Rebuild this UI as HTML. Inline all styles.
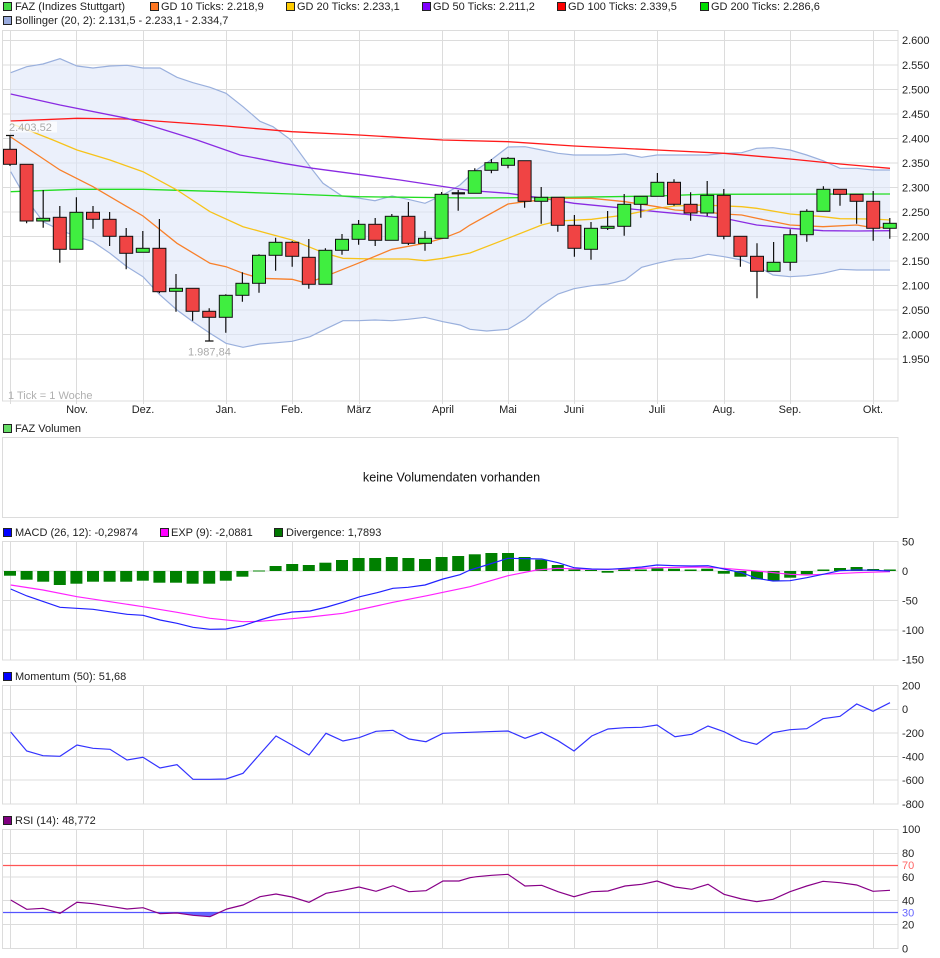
<!DOCTYPE html>
<html><head><meta charset="utf-8"><style>
html,body{margin:0;padding:0;background:#fff;}
svg{display:block;}
text{font-family:"Liberation Sans",Arial,sans-serif;font-size:11px;fill:#222;}
</style></head><body>
<svg width="940" height="958" viewBox="0 0 940 958" xmlns="http://www.w3.org/2000/svg">
<!-- Legend -->
<g stroke="#222" stroke-width="1">
<rect x="3.5" y="2.5" width="8" height="8" fill="#44dd44"/>
<rect x="150.5" y="2.5" width="8" height="8" fill="#ff7722"/>
<rect x="286.5" y="2.5" width="8" height="8" fill="#ffcc00"/>
<rect x="422.5" y="2.5" width="8" height="8" fill="#8000ff"/>
<rect x="557.5" y="2.5" width="8" height="8" fill="#ff0000"/>
<rect x="700.5" y="2.5" width="8" height="8" fill="#00dd00"/>
<rect x="3.5" y="16.5" width="8" height="8" fill="#99aadd"/>
</g>
<text x="15" y="10">FAZ (Indizes Stuttgart)</text>
<text x="161" y="10">GD 10 Ticks: 2.218,9</text>
<text x="297" y="10">GD 20 Ticks: 2.233,1</text>
<text x="433" y="10">GD 50 Ticks: 2.211,2</text>
<text x="568" y="10">GD 100 Ticks: 2.339,5</text>
<text x="711" y="10">GD 200 Ticks: 2.286,6</text>
<text x="15" y="24">Bollinger (20, 2): 2.131,5 - 2.233,1 - 2.334,7</text>

<!-- Main chart grid -->
<g stroke="#dcdcdc" stroke-width="1" fill="none">
<rect x="2.5" y="30.5" width="895.5" height="370.5"/>
<path d="M3 40.5H898M3 65H898M3 89.5H898M3 114H898M3 138.5H898M3 163H898M3 187.5H898M3 212H898M3 236.5H898M3 261H898M3 285.5H898M3 310H898M3 334.5H898M3 359H898"/>
<path d="M10.5 31V404M76.5 31V404M143.5 31V404M226.5 31V404M292.5 31V404M359.5 31V404M442.5 31V404M508.5 31V404M574.5 31V404M657.5 31V404M724.5 31V404M790.5 31V404M873.5 31V404"/>
</g>
<!-- Bollinger band -->
<polygon fill="#dde6f8" fill-opacity="0.6" points="10.7,72.7 26.7,66.7 43,64 60,58.7 77,66 93,68 110,66 127,65.3 143,68 160,68 177,77.3 193,82.7 210,87.3 226,93.3 243,106.7 260,121.3 273,126.7 290,139.3 310,166.7 323,183.3 342,196 358,198 375,200.7 392,196 408,199.3 425,203.3 443,195 460,185 475,171 491,160 508,147 525,146.7 541.7,150 558,153.3 574,155 591.7,155 608,155 625,154 641.7,157.3 657,155 675,155 691.7,155 708,155 724,153.3 741.7,152.7 756.7,148.3 773,147.7 790,150 806.7,155 823,160.7 840,168.3 856.7,168.3 873,170 890,170 890,270 873,270 856.7,270 840,269.3 823,273.3 806.7,275.7 790,276.7 773,275 758,266.7 741.7,260 724,256.7 708,254.3 691.7,258.3 675,259.3 657,263.3 641.7,267.3 625,280 608,284 591.7,285.7 574,288.7 558,294 541.7,305 525,319.3 508,329.3 486.7,331 470,329.3 460,325 443,321.7 425,317.3 408,319.3 392,320.7 375,320 358,320.7 343,320.7 327,328.3 310,336.7 292,341.3 277,342.7 260,344 243,347.3 226,343.3 210,333.3 193,321.7 177,310 160,295 143,276.7 127,266.7 110,253.3 93,241.7 77,236.7 60,230 43,221.7 27,200 10.7,171.7"/>
<g fill="none" stroke="#9ab0dd" stroke-width="1.2">
<polyline points="10.7,72.7 26.7,66.7 43,64 60,58.7 77,66 93,68 110,66 127,65.3 143,68 160,68 177,77.3 193,82.7 210,87.3 226,93.3 243,106.7 260,121.3 273,126.7 290,139.3 310,166.7 323,183.3 342,196 358,198 375,200.7 392,196 408,199.3 425,203.3 443,195 460,185 475,171 491,160 508,147 525,146.7 541.7,150 558,153.3 574,155 591.7,155 608,155 625,154 641.7,157.3 657,155 675,155 691.7,155 708,155 724,153.3 741.7,152.7 756.7,148.3 773,147.7 790,150 806.7,155 823,160.7 840,168.3 856.7,168.3 873,170 890,170"/>
<polyline points="10.7,171.7 27,200 43,221.7 60,230 77,236.7 93,241.7 110,253.3 127,266.7 143,276.7 160,295 177,310 193,321.7 210,333.3 226,343.3 243,347.3 260,344 277,342.7 292,341.3 310,336.7 327,328.3 343,320.7 358,320.7 375,320 392,320.7 408,319.3 425,317.3 443,321.7 460,325 470,329.3 486.7,331 508,329.3 525,319.3 541.7,305 558,294 574,288.7 591.7,285.7 608,284 625,280 641.7,267.3 657,263.3 675,259.3 691.7,258.3 708,254.3 724,256.7 741.7,260 758,266.7 773,275 790,276.7 806.7,275.7 823,273.3 840,269.3 856.7,270 873,270 890,270"/>
</g>
<!-- Moving averages -->
<g fill="none" stroke-width="1.3">
<polyline stroke="#22dd22" points="10.7,191.7 77,189.3 143,189.3 226,191.7 292,194 359,196.7 470,198 570,197.3 657,196 703,194.3 890,194"/>
<polyline stroke="#ff1a1a" points="10.7,121 77,118.3 127,119 226,126 292,131.7 359,135 442.7,140 508,141.7 574,146 657,150 724,153.3 790,159 840,164 890,168.3"/>
<polyline stroke="#8a2be2" points="10.7,94 60,105 127,118.3 143,123.3 197,140 240,155 283,163.3 313,168.3 358,174.3 400,180 433,185 470,190.5 508,193.3 536.7,197.3 574,203.3 625,208.3 657,211.7 703,216 724,218.3 756.7,225 790,228.3 823,230.7 856.7,231 890,230.7"/>
<polyline stroke="#f7c31a" points="10.7,123.3 53,140 77,150 110,160 143,171.7 177,190 210,211.7 243,226.7 267,233.3 292,240 325,253.3 343,258.3 375,259 408,259 425,260.7 443,258.3 470,253 508,238.3 541.7,225 558,221 591.7,219.3 625,215 657,208.3 675,206 703,205 741.7,206.7 756.7,208.3 790,214 823,216.7 840,218.7 873,219 890,220"/>
<polyline stroke="#f8802a" points="10.7,137 60,170 93,186.7 143,216 177,243.3 210,263.3 226,266.7 243,273.3 260,278.3 292,279.3 307,283.3 333,273.3 358,263.3 392,249.3 425,243.3 443,238.3 460,231.7 470,225 508,204 525,201.7 558,198.3 591.7,198.3 625,201.7 657,206.7 675,210 703,211.7 724,214 741.7,215 756.7,218.3 790,225 823,226.7 856.7,225 873,227.7 890,227.3"/>
</g>
<!-- Candle wicks -->
<g stroke="#111" stroke-width="1.2">
<path d="M10 136V166M6 135.5H14M26.6 164V223.3M43.2 190V227.7M59.8 206V262.7M76.4 197.3V249.3M93 206V228.7M109.6 212V246M126.2 228V269.3M142.8 231V252.3M159.4 219V293.3M176 274V311.7M192.6 288V320.7M209.2 308.3V341M205 341H213.5M225.8 294.3V332.7M242.4 272.3V301.7M259 254.3V292.7M275.6 237.7V270.7M292.2 241V266.7M308.8 239V288.7M325.4 248.3V284.3M342 234V254.7M358.6 220V244.7M375.2 218V246M391.8 214V240.3M408.4 202V245M425 231V250.7M441.6 192V238.3M458.2 190V210.7M474.8 168.3V193.3M491.4 159V173.3M508 157V168.3M524.6 160.7V207.7M541.2 187V223.7M557.8 197.3V231.7M574.4 215V256.7M591 222V259.7M607.6 211V230M624.2 194V235.7M640.8 196.3V217.7M657.4 173V196.3M674 179.3V205.7M690.6 192.3V220.7M707.2 181V216M723.8 189V239.3M740.4 236.3V266.7M757 243.3V298.3M773.6 242V271.3M790.2 229.3V270.7M806.8 209.3V241.7M823.4 186.3V211.3M840 189.3V205.7M856.6 194.3V223.7M873.2 191V240.7M889.8 218V238.7"/>
</g>
<path d="M451.7 193.3H465" stroke="#111" stroke-width="2.2"/>
<!-- Candle bodies -->
<g stroke="#111" stroke-width="1">
<g fill="#f04444">
<rect x="3.5" y="149.3" width="13" height="15"/>
<rect x="20.1" y="164.3" width="13" height="56.7"/>
<rect x="53.3" y="217.3" width="13" height="32"/>
<rect x="86.5" y="212.3" width="13" height="7"/>
<rect x="103.1" y="219.3" width="13" height="17"/>
<rect x="119.7" y="236.3" width="13" height="17"/>
<rect x="152.9" y="248.3" width="13" height="43.4"/>
<rect x="186.1" y="288.3" width="13" height="23"/>
<rect x="202.7" y="311.3" width="13" height="6"/>
<rect x="285.7" y="242.3" width="13" height="14"/>
<rect x="302.3" y="257.3" width="13" height="27"/>
<rect x="368.7" y="224.3" width="13" height="16"/>
<rect x="401.9" y="216.3" width="13" height="27"/>
<rect x="518.1" y="160.7" width="13" height="40.6"/>
<rect x="551.3" y="197.3" width="13" height="28"/>
<rect x="567.9" y="225.3" width="13" height="23"/>
<rect x="667.5" y="182.3" width="13" height="22"/>
<rect x="684.1" y="204.3" width="13" height="8.7"/>
<rect x="717.3" y="195.3" width="13" height="41"/>
<rect x="733.9" y="236.3" width="13" height="20"/>
<rect x="750.5" y="256.3" width="13" height="15"/>
<rect x="833.5" y="189.3" width="13" height="5"/>
<rect x="850.1" y="194.3" width="13" height="7"/>
<rect x="866.7" y="201.3" width="13" height="27"/>
</g>
<g fill="#40ee40">
<rect x="36.7" y="218.3" width="13" height="2.7"/>
<rect x="69.9" y="212.3" width="13" height="37"/>
<rect x="136.3" y="248.3" width="13" height="4"/>
<rect x="169.5" y="288.3" width="13" height="3"/>
<rect x="219.3" y="295.3" width="13" height="22"/>
<rect x="235.9" y="283.3" width="13" height="12"/>
<rect x="252.5" y="255.3" width="13" height="28"/>
<rect x="269.1" y="242.3" width="13" height="13"/>
<rect x="318.9" y="250.3" width="13" height="34"/>
<rect x="335.5" y="239.3" width="13" height="11"/>
<rect x="352.1" y="224.3" width="13" height="15"/>
<rect x="385.3" y="216.3" width="13" height="24"/>
<rect x="418.5" y="238.3" width="13" height="5"/>
<rect x="435.1" y="194.3" width="13" height="44"/>
<rect x="468.3" y="170.7" width="13" height="22.6"/>
<rect x="484.9" y="162.7" width="13" height="7.6"/>
<rect x="501.5" y="158.3" width="13" height="7"/>
<rect x="534.7" y="197.3" width="13" height="4"/>
<rect x="584.5" y="228.3" width="13" height="21"/>
<rect x="601.1" y="226.3" width="13" height="2"/>
<rect x="617.7" y="204.3" width="13" height="22"/>
<rect x="634.3" y="196.3" width="13" height="8"/>
<rect x="650.9" y="182.3" width="13" height="14"/>
<rect x="700.7" y="195.3" width="13" height="17.7"/>
<rect x="767.1" y="262.3" width="13" height="9"/>
<rect x="783.7" y="234.7" width="13" height="27.6"/>
<rect x="800.3" y="211.3" width="13" height="23.4"/>
<rect x="816.9" y="189.3" width="13" height="22"/>
<rect x="883.3" y="223.3" width="13" height="5"/>
</g>
</g>
<!-- annotations -->
<rect x="3" y="121.5" width="54" height="11" fill="#fff" fill-opacity="0.75"/>
<text x="9" y="131" style="fill:#aaa">2.403,52</text>
<text x="188" y="355.5" style="fill:#aaa">1.987,84</text>
<text x="8" y="399" style="fill:#b0b0b0">1 Tick = 1 Woche</text>
<!-- Y labels main -->
<g>
<text x="902" y="44">2.600</text>
<text x="902" y="69">2.550</text>
<text x="902" y="93.5">2.500</text>
<text x="902" y="118">2.450</text>
<text x="902" y="142.5">2.400</text>
<text x="902" y="167">2.350</text>
<text x="902" y="191.5">2.300</text>
<text x="902" y="216">2.250</text>
<text x="902" y="240.5">2.200</text>
<text x="902" y="265">2.150</text>
<text x="902" y="289.5">2.100</text>
<text x="902" y="314">2.050</text>
<text x="902" y="338.5">2.000</text>
<text x="902" y="363">1.950</text>
</g>
<!-- X labels -->
<g text-anchor="middle">
<text x="77" y="413">Nov.</text>
<text x="143" y="413">Dez.</text>
<text x="226" y="413">Jan.</text>
<text x="292" y="413">Feb.</text>
<text x="359" y="413">März</text>
<text x="443" y="413">April</text>
<text x="508" y="413">Mai</text>
<text x="574" y="413">Juni</text>
<text x="657" y="413">Juli</text>
<text x="724" y="413">Aug.</text>
<text x="790" y="413">Sep.</text>
<text x="873" y="413">Okt.</text>
</g>

<!-- Volume panel -->
<rect x="3.5" y="424.5" width="8" height="8" fill="#66dd66" stroke="#222"/>
<text x="15" y="432">FAZ Volumen</text>
<rect x="2.5" y="437.5" width="895.5" height="80" fill="none" stroke="#dcdcdc"/>
<text x="451.5" y="481.5" text-anchor="middle" style="font-size:12.6px;fill:#111">keine Volumendaten vorhanden</text>

<!-- MACD panel -->
<rect x="3.5" y="528.5" width="8" height="8" fill="#0000ff" stroke="#222"/>
<text x="15" y="536">MACD (26, 12): -0,29874</text>
<rect x="160.5" y="528.5" width="8" height="8" fill="#ff00ff" stroke="#222"/>
<text x="171" y="536">EXP (9): -2,0881</text>
<rect x="274.5" y="528.5" width="8" height="8" fill="#007700" stroke="#222"/>
<text x="286" y="536">Divergence: 1,7893</text>
<g stroke="#dcdcdc" stroke-width="1" fill="none">
<rect x="2.5" y="541.5" width="895.5" height="118.5"/>
<path d="M3 571H898M3 600.5H898M3 630H898"/>
<path d="M10.5 542V660M76.5 542V660M143.5 542V660M226.5 542V660M292.5 542V660M359.5 542V660M442.5 542V660M508.5 542V660M574.5 542V660M657.5 542V660M724.5 542V660M790.5 542V660M873.5 542V660"/>
</g>
<g fill="#008000">
<rect x="4" y="571" width="12" height="4.7"/>
<rect x="20.6" y="571" width="12" height="8.7"/>
<rect x="37.2" y="571" width="12" height="10.7"/>
<rect x="53.8" y="571" width="12" height="14"/>
<rect x="70.4" y="571" width="12" height="12.7"/>
<rect x="87" y="571" width="12" height="10.7"/>
<rect x="103.6" y="571" width="12" height="10.7"/>
<rect x="120.2" y="571" width="12" height="10.7"/>
<rect x="136.8" y="571" width="12" height="9.7"/>
<rect x="153.4" y="571" width="12" height="11.7"/>
<rect x="170" y="571" width="12" height="11.7"/>
<rect x="186.6" y="571" width="12" height="12.7"/>
<rect x="203.2" y="571" width="12" height="12.7"/>
<rect x="219.8" y="571" width="12" height="9.7"/>
<rect x="236.4" y="571" width="12" height="5.7"/>
<rect x="253" y="570.5" width="12" height="1"/>
<rect x="269.6" y="566" width="12" height="5"/>
<rect x="286.2" y="564" width="12" height="7"/>
<rect x="302.8" y="565" width="12" height="6"/>
<rect x="319.4" y="562.7" width="12" height="8.3"/>
<rect x="336" y="560" width="12" height="11"/>
<rect x="352.6" y="558" width="12" height="13"/>
<rect x="369.2" y="558" width="12" height="13"/>
<rect x="385.8" y="557" width="12" height="14"/>
<rect x="402.4" y="558" width="12" height="13"/>
<rect x="419" y="559" width="12" height="12"/>
<rect x="435.6" y="557" width="12" height="14"/>
<rect x="452.2" y="556" width="12" height="15"/>
<rect x="468.8" y="554.3" width="12" height="16.7"/>
<rect x="485.4" y="553" width="12" height="18"/>
<rect x="502" y="553" width="12" height="18"/>
<rect x="518.6" y="557" width="12" height="14"/>
<rect x="535.2" y="559.7" width="12" height="11.3"/>
<rect x="551.8" y="565" width="12" height="6"/>
<rect x="568.4" y="569.5" width="12" height="1.5"/>
<rect x="585" y="570" width="12" height="1"/>
<rect x="601.6" y="571" width="12" height="1.7"/>
<rect x="618.2" y="569.5" width="12" height="1.5"/>
<rect x="634.8" y="569.5" width="12" height="1.5"/>
<rect x="651.4" y="568.3" width="12" height="2.7"/>
<rect x="668" y="568.7" width="12" height="2.3"/>
<rect x="684.6" y="569.5" width="12" height="1.5"/>
<rect x="701.2" y="568.7" width="12" height="2.3"/>
<rect x="717.8" y="571" width="12" height="2.7"/>
<rect x="734.4" y="571" width="12" height="5.7"/>
<rect x="751" y="571" width="12" height="8.3"/>
<rect x="767.6" y="571" width="12" height="9.7"/>
<rect x="784.2" y="571" width="12" height="6.7"/>
<rect x="800.8" y="571" width="12" height="3.3"/>
<rect x="817.4" y="569.5" width="12" height="1.5"/>
<rect x="834" y="568" width="12" height="3"/>
<rect x="850.6" y="567" width="12" height="4"/>
<rect x="867.2" y="569" width="12" height="2"/>
<rect x="883.8" y="569.5" width="12" height="1.5"/>
</g>
<g fill="none" stroke-width="1.2">
<polyline stroke="#ff22ff" points="10.7,585 43,590 77,596.7 110,601.7 143,606.7 177,612.3 210,618.3 243,621.7 260,621.3 292,618.7 310,617 343,613.3 358,610 393,602.3 427,595.7 443,592.3 470,586.7 508,575.7 536.7,570 558,568.3 591.7,569.3 625,569 657,567.7 703,567 724,568.3 756.7,571 790,574.3 806.7,575 823,574.3 856.7,572.7 890,571.7"/>
<polyline stroke="#2222ff" points="10.7,589 27,596 60,607.3 93,609.3 127,614.3 143,615.3 160,620 177,623.3 193,627.3 210,629.3 226,629 243,625.7 260,620 277,615 292,612 310,611 327,607 343,602.3 360,596.7 377,592.7 393,588.3 408,587.3 425,585 443,579 460,574.7 470,570 486.7,565 508,558.3 541.7,559 558,562.7 574,567.7 591.7,569 608,569.3 625,568.3 641.7,567 657,565 675,565.7 691.7,566 708,565.7 724,569 741.7,572.7 756.7,578.3 773,581 790,580.7 806.7,577.7 823,574.3 840,570.7 856.7,570 873,570.3 890,571"/>
</g>
<g>
<text x="902" y="545.5">50</text>
<text x="902" y="575">0</text>
<text x="902" y="604.5">-50</text>
<text x="902" y="634">-100</text>
<text x="902" y="663.5">-150</text>
</g>

<!-- Momentum panel -->
<rect x="3.5" y="672.5" width="8" height="8" fill="#0000ff" stroke="#222"/>
<text x="15" y="680">Momentum (50): 51,68</text>
<g stroke="#dcdcdc" stroke-width="1" fill="none">
<rect x="2.5" y="685.5" width="895.5" height="118.5"/>
<path d="M3 709.5H898M3 733H898M3 756.5H898M3 780H898"/>
<path d="M10.5 686V804M76.5 686V804M143.5 686V804M226.5 686V804M292.5 686V804M359.5 686V804M442.5 686V804M508.5 686V804M574.5 686V804M657.5 686V804M724.5 686V804M790.5 686V804M873.5 686V804"/>
</g>
<polyline fill="none" stroke="#3333ff" stroke-width="1.2" points="10.7,732 26.7,751 43,755.7 60,756.3 77,745 93,748.3 110,749.3 127,760 143,757.3 160,768 177,764.7 193,779.3 210,779.3 226,779 243,773.3 260,754 276,736 292,745 309,755 326,733.3 343,741 359,737.7 376,731.3 393,730.3 409,739 426,741.7 443,733.3 459,732.7 470,732.3 486.7,731.7 508,731 525,738.3 541.7,732.3 558,740.7 574,751 591.7,736 608,729 625,727.7 641.7,727.3 657,725 675,736.7 691.7,734.3 708,726 724,731.7 741.7,740.7 756.7,744.3 773,732.7 790,729.7 806.7,728.7 823,718.7 840,716.3 856.7,704 873,711.3 890,702.7"/>
<g>
<text x="902" y="689.5">200</text>
<text x="902" y="713">0</text>
<text x="902" y="737">-200</text>
<text x="902" y="760.5">-400</text>
<text x="902" y="784">-600</text>
<text x="902" y="808">-800</text>
</g>

<!-- RSI panel -->
<rect x="3.5" y="816.5" width="8" height="8" fill="#800080" stroke="#222"/>
<text x="15" y="824">RSI (14): 48,772</text>
<g stroke="#dcdcdc" stroke-width="1" fill="none">
<rect x="2.5" y="829.5" width="895.5" height="119"/>
<path d="M3 853.5H898M3 877H898M3 900.5H898M3 924.5H898"/>
<path d="M10.5 830V948M76.5 830V948M143.5 830V948M226.5 830V948M292.5 830V948M359.5 830V948M442.5 830V948M508.5 830V948M574.5 830V948M657.5 830V948M724.5 830V948M790.5 830V948M873.5 830V948"/>
</g>
<path d="M3 865.5H898" stroke="#ff5555" stroke-width="1.2"/>
<path d="M3 912.5H898" stroke="#5555ff" stroke-width="1.2"/>
<polygon fill="#6666ff" points="157.5,912.8 160,913.7 177,913 193,915.3 210,916.7 218.6,912.8"/>
<polyline fill="none" stroke="#880088" stroke-width="1.2" points="10.7,900 26.7,909.3 43,908.3 60,913.3 77,902.3 93,903.7 110,906.3 127,909 143,907.7 160,913.7 177,913 193,915.3 210,916.7 227,909 243,905 260,896.7 276,894 292,897 309,902.3 326,893.3 343,890.3 359,887 376,891.3 393,885.7 409,891.7 426,890.7 443,881 459,881 470,877.7 476.7,876.7 491.7,875.3 508,874.3 525,886 541.7,885.3 558,891.7 574,896.7 591.7,891.7 608,891 625,886 641.7,884.3 657,881 675,887 691.7,889.3 708,884.3 724,894.3 741.7,899 756.7,901.7 773,899.3 790,891.7 806.7,886 823,881.3 840,882.7 856.7,885 873,891.3 890,890.3"/>
<g>
<text x="902" y="833">100</text>
<text x="902" y="857">80</text>
<text x="902" y="869" style="fill:#ff6666">70</text>
<text x="902" y="881">60</text>
<text x="902" y="904.5">40</text>
<text x="902" y="916.5" style="fill:#6666ff">30</text>
<text x="902" y="928.5">20</text>
<text x="902" y="952.5">0</text>
</g>
</svg>
</body></html>
